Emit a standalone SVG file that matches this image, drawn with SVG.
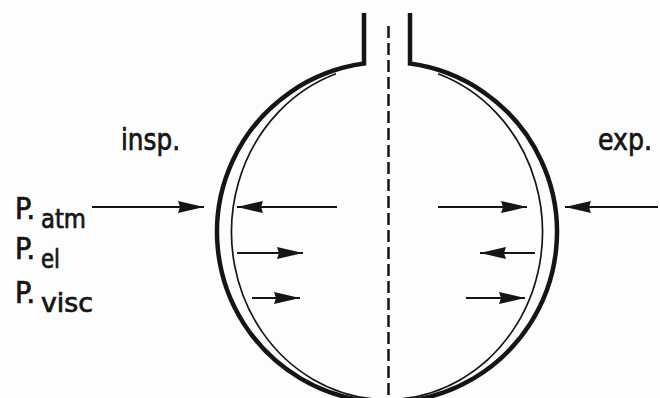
<svg xmlns="http://www.w3.org/2000/svg" width="660" height="398" viewBox="0 0 660 398">
<style>
.lbl{font-family:"Liberation Sans Narrow","DejaVu Sans Condensed","Liberation Sans",sans-serif;fill:#151515;stroke:#151515;stroke-width:0.7}
.arr{stroke:#151515;stroke-width:2;fill:none}
.wall{fill:none;stroke:#151515;stroke-linejoin:miter}
</style>
<defs>
<marker id="ah" viewBox="0 0 26 12" refX="26" refY="6" markerWidth="26" markerHeight="12" markerUnits="userSpaceOnUse" orient="auto">
<path d="M0,0 L26,6 L0,12 L2,6 z" fill="#151515"/>
</marker>
</defs>
<rect width="660" height="398" fill="#fdfdfd"/>
<g id="lung">
<path class="wall" stroke-width="4.5" d="M364,13 L364,63.6 A170,170 0 1 0 410,63.6 L410,13"/>
<path class="wall" stroke-width="1.7" d="M336,73.8 A155.5,167.5 0 1 0 438,73.8"/>
</g>
<g id="midline">
<line x1="388.5" y1="26" x2="388.5" y2="398" stroke="#151515" stroke-width="2.5" stroke-dasharray="12 5"/>
</g>
<g id="insp-label"><text class="lbl" x="121" y="150" font-size="30" textLength="59" lengthAdjust="spacingAndGlyphs">insp.</text></g>
<g id="exp-label"><text class="lbl" x="598" y="150" font-size="30" textLength="54" lengthAdjust="spacingAndGlyphs">exp.</text></g>
<g id="p-atm"><text class="lbl" x="15" y="219" font-size="30">P.<tspan x="41" y="228" font-size="27" textLength="45" lengthAdjust="spacingAndGlyphs">atm</tspan></text></g>
<g id="p-el"><text class="lbl" x="15" y="259" font-size="30">P.<tspan x="41" y="268" font-size="27" textLength="19" lengthAdjust="spacingAndGlyphs">el</tspan></text></g>
<g id="p-visc"><text class="lbl" x="15" y="303" font-size="30">P.<tspan x="41" y="312" font-size="27" textLength="52" lengthAdjust="spacingAndGlyphs">visc</tspan></text></g>
<g id="connectors">
<line class="arr" x1="92" y1="207" x2="204" y2="207" marker-end="url(#ah)"/>
<line class="arr" x1="337" y1="207" x2="237" y2="207" marker-end="url(#ah)"/>
<line class="arr" x1="438" y1="207" x2="527" y2="207" marker-end="url(#ah)"/>
<line class="arr" x1="658" y1="207" x2="565" y2="207" marker-end="url(#ah)"/>
<line class="arr" x1="237" y1="253" x2="303" y2="253" marker-end="url(#ah)"/>
<line class="arr" x1="535" y1="253" x2="480" y2="253" marker-end="url(#ah)"/>
<line class="arr" x1="252" y1="298" x2="300" y2="298" marker-end="url(#ah)"/>
<line class="arr" x1="466" y1="298" x2="525" y2="298" marker-end="url(#ah)"/>
</g>
</svg>
